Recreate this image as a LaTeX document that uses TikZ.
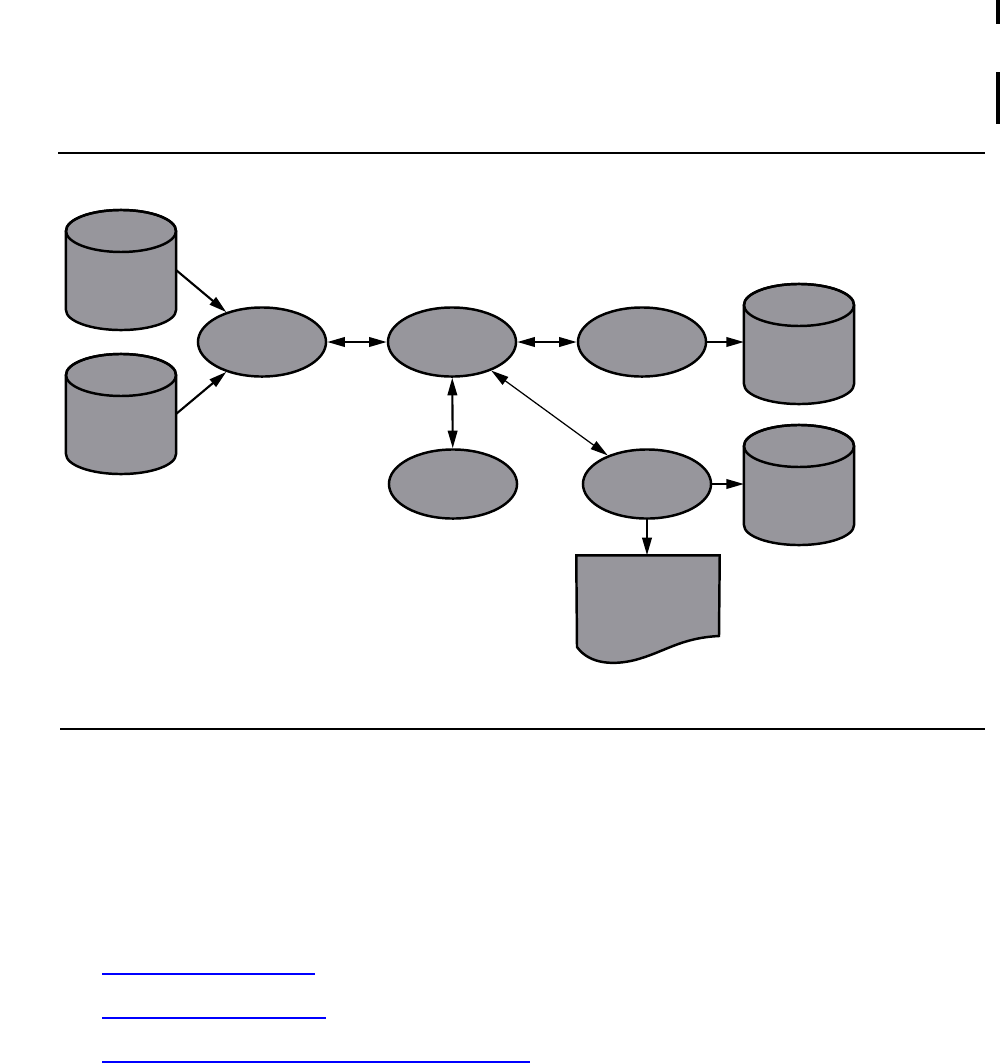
\documentclass[tikz,border=0pt]{standalone}
\usepackage{tikz}
\usetikzlibrary{shapes.geometric,arrows.meta}
\definecolor{store}{RGB}{151,150,156}
\definecolor{link}{RGB}{0,0,255}

\begin{document}
\begin{tikzpicture}[x=0.01cm, y=-0.01cm,
    >={Triangle[length=5pt,width=2.7pt]},
    proc/.style={ellipse, draw, fill=store, line width=0.7pt, inner sep=0pt,
        minimum width=1.28cm, minimum height=0.69cm},
    disk/.style={inner sep=0pt, outer sep=0pt, minimum width=1.10cm, minimum height=1.20cm},
    flow/.style={line width=0.6pt}]

    \useasboundingbox (0, 0) rectangle (1000, 1063);

    \node [disk] (s) at (121, 270) {};
    \node [disk] (t) at (121, 414) {};
    \node [proc] (a) at (262, 342) {};
    \node [proc] (b) at (452, 342) {};
    \node [proc] (c) at (642, 342) {};
    \node [proc] (d) at (453, 484) {};
    \node [proc] (e) at (647, 484) {};
    \node [disk] (u) at (799, 344) {};
    \node [disk] (v) at (799, 485) {};
    \node (r) [minimum width=1.42cm, minimum height=0.81cm] at (648, 596.5) {};

    % data stores
    \foreach \n in {s, t, u, v} {
        \draw [fill=store, line width=0.7pt] ([yshift=-0.21cm]\n.north west)
            -- ([yshift=0.2cm]\n.south west)
            arc [start angle=180, end angle=360, x radius=0.55cm, y radius=0.2cm]
            -- ([yshift=-0.21cm]\n.north east)
            arc [start angle=0, end angle=180, x radius=0.55cm, y radius=0.21cm] -- cycle;
        \draw [line width=0.7pt] ([yshift=-0.21cm]\n.north)
            ellipse [x radius=0.55cm, y radius=0.21cm];
    }

    % report sheet with wavy bottom
    \draw [fill=store, line width=0.7pt] (r.north west) -- (r.north east) -- (719, 636)
        .. controls (680, 638) and (665, 652) .. (635, 660)
        .. controls (615, 665) and (590, 665) .. (577, 647) -- cycle;

    \draw [->, flow] (s.east) to (a);
    \draw [->, flow] (t.east) to (a);
    \draw [<->, flow] (a) to (b);
    \draw [<->, flow] (b) to (c);
    \draw [<->, flow] (b) to (d);
    \draw [<->, line width=0.35pt] (b) to (e);
    \draw [->, flow] (c.east) to (c.east -| u.west);
    \draw [->, flow] (e.east) to (e.east -| v.west);
    \draw [->, flow] (e.south) to (e.south |- r.north);

    % rules and marks
    \draw [line width=0.4pt] (58, 153) -- (985, 153);
    \draw [line width=0.4pt] (60, 729) -- (985, 729);
    \fill (996, 0) rectangle (1000, 24);
    \fill (996, 72) rectangle (1000, 124);
    \draw [link, line width=0.4pt] (102, 974) -- (315, 974);
    \draw [link, line width=0.4pt] (102, 1018) -- (326, 1018);
    \draw [link, line width=0.4pt] (102, 1062) -- (530, 1062);

\end{tikzpicture}
\end{document}
